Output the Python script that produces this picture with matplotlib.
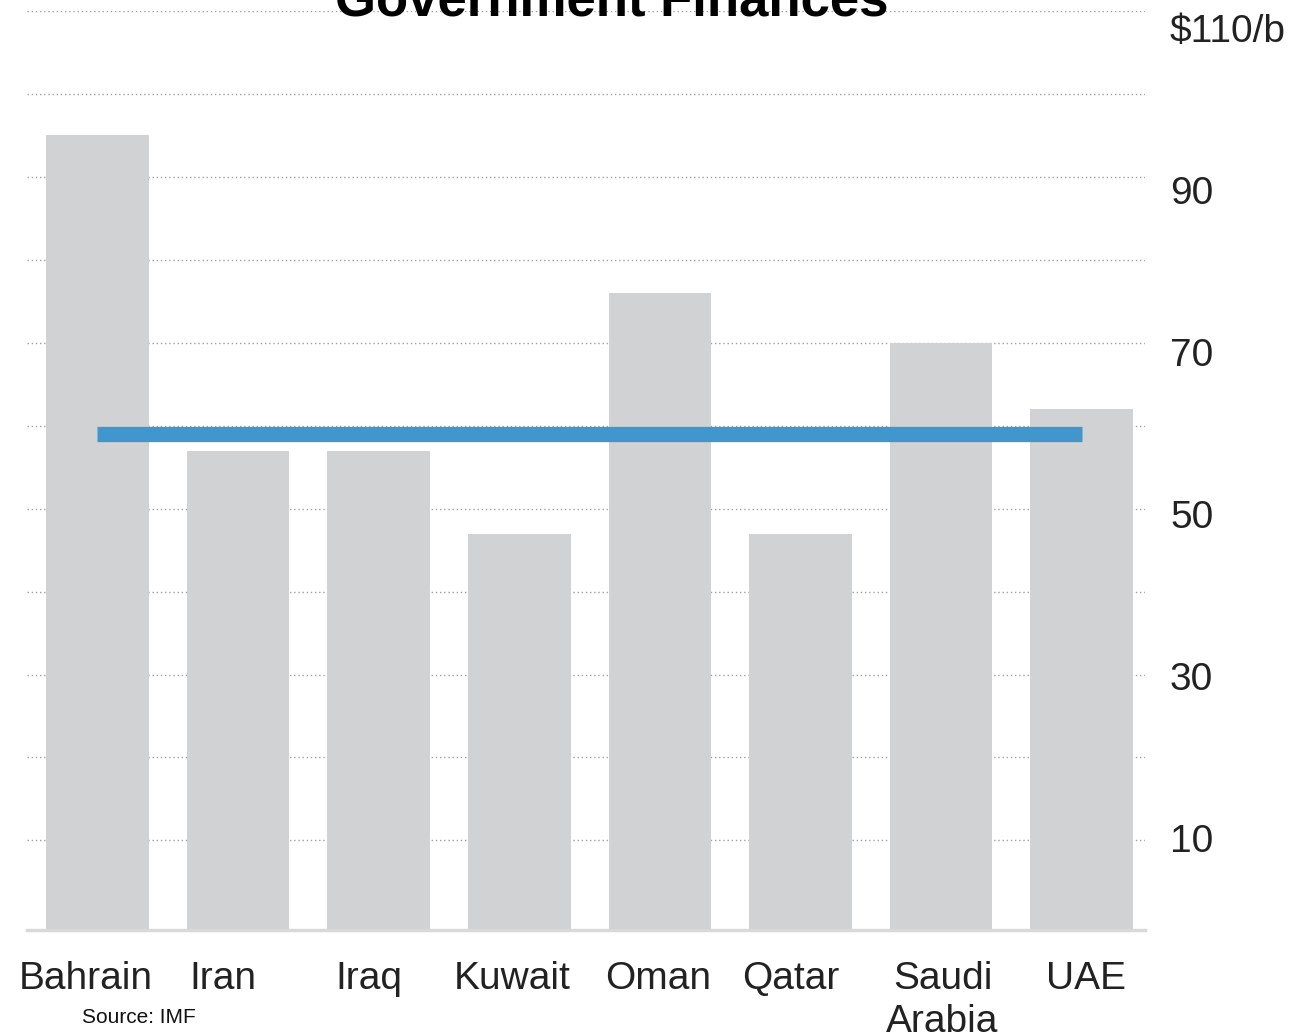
import matplotlib.pyplot as plt
import numpy as np

plt.rcParams['font.family'] = ['Liberation Sans', 'DejaVu Sans']

countries = ["Bahrain", "Iran", "Iraq", "Kuwait", "Oman", "Qatar", "Saudi\nArabia", "UAE"]
breakeven = [95, 57, 57, 47, 76, 47, 70, 62]
oil_price = 59
tick_vals = [10, 30, 50, 70, 90, 110]
tick_labels = ["10", "30", "50", "70", "90", "$110/b"]

# small nudges of the category labels, as in the original graphic
label_shift = [-0.08, -0.11, -0.07, -0.05, -0.01, -0.07, 0.01, 0.03]

ymin = -0.8
fig = plt.figure(figsize=(12.95, 10.36), dpi=100)
ax = fig.add_axes([27 / 1295, 1 - 930 / 1036, (1145 - 27) / 1295, (930 - 11) / 1036])

x = np.arange(len(countries))
ax.bar(x, np.array(breakeven) - ymin, bottom=ymin, width=0.73, color="#d1d2d4", zorder=2)
ax.plot([x[0], x[-1]], [oil_price, oil_price], color="#4196cd", linewidth=11,
        solid_capstyle="butt", zorder=3)

ax.set_xlim(-0.5, 7.45)
ax.set_ylim(ymin, 110)
ax.set_yticks(np.arange(10, 111, 10))
ax.set_yticklabels([])
ax.yaxis.grid(True, linestyle=(0, (1, 2)), color="#a0a0a0", linewidth=1)
ax.set_axisbelow(True)
ax.tick_params(axis="y", length=0, left=False, right=False)

# value labels sit on their own scale, slightly off the grid as in the original
lab = ax.twinx()
lab.set_ylim(-1.36, 112.1)
lab.set_yticks(tick_vals)
lab.set_yticklabels(tick_labels)
lab.tick_params(axis="y", length=0, pad=18, labelsize=28, labelcolor="#222222")
for s in lab.spines.values():
    s.set_visible(False)

ax.set_xticks(x + np.array(label_shift))
ax.set_xticklabels(countries, linespacing=1.25)
ax.tick_params(axis="x", length=0, pad=22, labelsize=28, labelcolor="#222222")

for s in ["left", "right", "top"]:
    ax.spines[s].set_visible(False)
ax.spines["bottom"].set_color("#d9d9d9")
ax.spines["bottom"].set_linewidth(2.5)

fig.text(612 / 1295, 1 - 15 / 1036, "Government Finances", ha="center", va="baseline",
         fontsize=38, fontweight="bold", color="black")
fig.text(82 / 1295, 1 - 1023 / 1036, "Source: IMF", ha="left", va="baseline",
         fontsize=15, color="#111111")

fig.savefig("out.png", dpi=100)
